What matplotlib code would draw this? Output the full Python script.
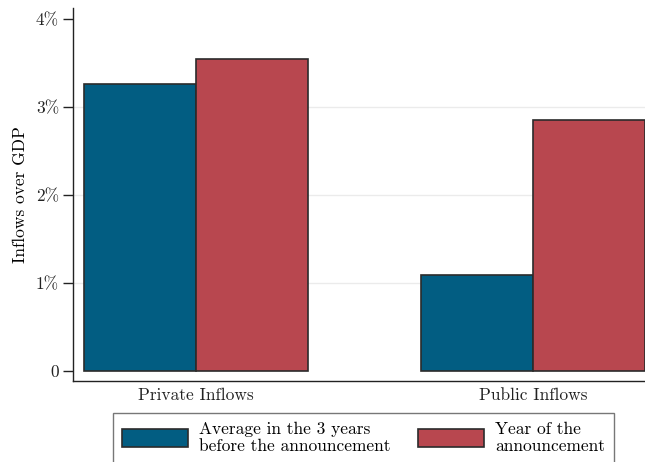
import matplotlib
matplotlib.use("Agg")
import matplotlib.pyplot as plt
from matplotlib.patches import Patch
import numpy as np

# data
categories = ["Private Inflows", "Public Inflows"]
before_vals = [3.26, 1.09]   # average in the 3 years before
year_vals = [3.54, 2.85]     # year of the announcement
series_labels = ["Average in the 3 years\nbefore the announcement",
                 "Year of the\nannouncement"]
yticks = [0, 1, 2, 3, 4]
ytick_labels = ["0", "1%", "2%", "3%", "4%"]

BLUE = "#025d82"
RED = "#b8474f"
EDGE = "#2b2b2b"

plt.rcParams["font.family"] = ["cmr10", "DejaVu Serif"]
plt.rcParams["mathtext.fontset"] = "cm"
plt.rcParams["axes.unicode_minus"] = False

fig = plt.figure(figsize=(6.45, 4.62), dpi=100)
ax = fig.add_axes([73 / 645, 81 / 462, 583 / 645, 373 / 462])

x = np.arange(len(categories))
w = 0.332
for yv in (1, 2, 3):
    ax.axhline(yv, color="#ebebeb", lw=1.0, zorder=0)
ax.bar(x - w / 2, before_vals, w, color=BLUE, edgecolor=EDGE, lw=1.2, zorder=2)
ax.bar(x + w / 2, year_vals, w, color=RED, edgecolor=EDGE, lw=1.2, zorder=2)

ax.set_xlim(-0.365, 1.365)
ax.set_ylim(-0.114, 4.125)
ax.set_yticks(yticks)
ax.set_yticklabels(ytick_labels)
ax.set_xticks(x)
ax.set_xticklabels(categories)
ax.tick_params(axis="x", length=0, pad=5, labelsize=12.5, colors="#222222")
ax.tick_params(axis="y", length=7, width=1, pad=3, labelsize=12.5, colors="#222222")
ax.set_ylabel("Inflows over GDP", fontsize=12.5, labelpad=6)

for s in ("top", "right"):
    ax.spines[s].set_visible(False)
for s in ("left", "bottom"):
    ax.spines[s].set_linewidth(1.0)
    ax.spines[s].set_color("#222222")

handles = [Patch(facecolor=BLUE, edgecolor=EDGE, lw=1.2),
           Patch(facecolor=RED, edgecolor=EDGE, lw=1.2)]
leg = fig.legend(handles, series_labels, ncol=2, loc="upper left",
                 bbox_to_anchor=(113 / 645, 1 - 413 / 462),
                 borderaxespad=0, fontsize=12.5, frameon=True, fancybox=False,
                 edgecolor="#555555", handlelength=3.8, handleheight=1.2,
                 columnspacing=1.6, labelspacing=0.2, borderpad=0.5,
                 handletextpad=0.65)
leg.get_frame().set_linewidth(1.0)
for t in leg.get_texts():
    t.set_linespacing(1.15)

fig.savefig("out.png", dpi=100)
